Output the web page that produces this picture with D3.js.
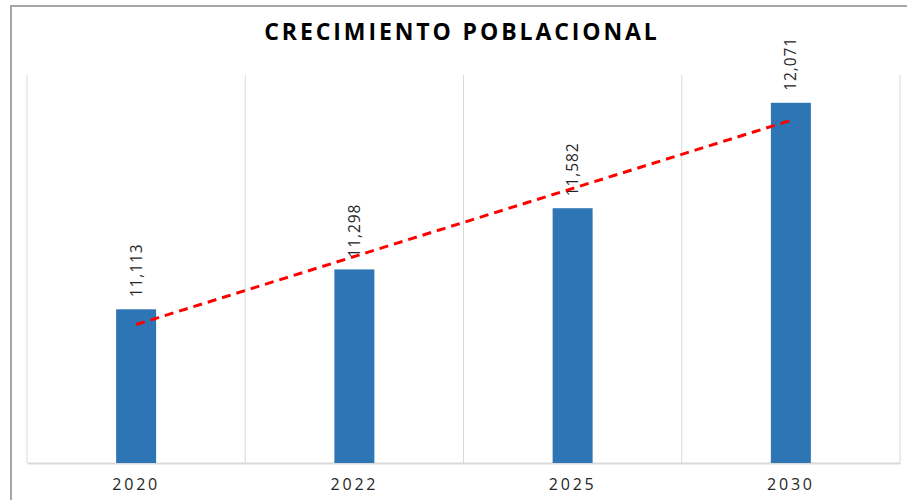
<!DOCTYPE html>
<html>
<head>
<meta charset="utf-8">
<script src="https://cdn.jsdelivr.net/npm/d3@7"></script>
<style>
  html, body { margin: 0; padding: 0; background: #fff; }
  svg { display: block; }
</style>
</head>
<body>
<svg id="chart" width="907" height="500"></svg>
<script>
// Population by year
const years = ["2020", "2022", "2025", "2030"];
const population = [11113, 11298, 11582, 12071];
const valueDomain = [10400, 12200];
const chartTitle = "CRECIMIENTO POBLACIONAL";

const W = 907, H = 500;
const margin = { top: 75, right: 7, bottom: 37, left: 27 };
const svg = d3.select("#chart");

svg.append("rect").attr("width", W).attr("height", H).attr("fill", "#fff");

// chart frame (top and left edges visible)
svg.append("path")
  .attr("d", `M11,${H} L11,6 L${W},6`)
  .attr("fill", "none")
  .attr("stroke", "#a6a6a6")
  .attr("stroke-width", 2);

const x = d3.scaleBand()
  .domain(years)
  .range([margin.left, W - margin.right])
  .paddingInner(0).paddingOuter(0);

const y = d3.scaleLinear()
  .domain(valueDomain)
  .range([H - margin.bottom, margin.top]);

// vertical category separators
const seps = years.map(d => x(d)).concat([x(years[years.length - 1]) + x.bandwidth()]);
svg.append("g").selectAll("line").data(seps).join("line")
  .attr("x1", d => d).attr("x2", d => d)
  .attr("y1", margin.top).attr("y2", H - margin.bottom)
  .attr("stroke", "#d9d9d9").attr("stroke-width", 1);

// category axis
const xAxis = svg.append("g")
  .attr("transform", `translate(0,${H - margin.bottom})`)
  .call(d3.axisBottom(x).tickSize(0).tickPadding(16));
xAxis.select(".domain").attr("stroke", "#d9d9d9").attr("stroke-width", 2);
xAxis.selectAll("text")
  .attr("font-family", "'Open Sans', sans-serif")
  .attr("font-size", 16)
  .attr("letter-spacing", "2.8px")
  .attr("fill", "#262626");

// bars
const barW = 40;
const data = years.map((yr, i) => ({ yr, v: population[i] }));
svg.append("g").selectAll("rect").data(data).join("rect")
  .attr("x", d => x(d.yr) + x.bandwidth() / 2 - barW / 2)
  .attr("width", barW)
  .attr("y", d => y(d.v))
  .attr("height", d => y(valueDomain[0]) - y(d.v))
  .attr("fill", "#2e75b6");

// value labels, rotated
const fmt = d3.format(",");
svg.append("g").selectAll("text").data(data).join("text")
  .attr("transform", d => `translate(${x(d.yr) + x.bandwidth() / 2},${y(d.v) - 12}) rotate(-90)`)
  .attr("dy", "0.35em")
  .attr("text-anchor", "start")
  .attr("font-family", "'Open Sans', sans-serif")
  .attr("font-size", 15.5)
  .attr("letter-spacing", "0.9px")
  .attr("fill", "#262626")
  .text(d => fmt(d.v));

// linear trend (least squares over category index)
const n = population.length;
const idx = d3.range(1, n + 1);
const mx = d3.mean(idx), my = d3.mean(population);
const slope = d3.sum(idx, (k, i) => (k - mx) * (population[i] - my)) / d3.sum(idx, k => (k - mx) ** 2);
const intercept = my - slope * mx;
const trend = [
  { yr: years[0], v: intercept + slope * idx[0] },
  { yr: years[n - 1], v: intercept + slope * idx[n - 1] }
];
svg.append("path")
  .datum(trend)
  .attr("d", d3.line().x(d => x(d.yr) + x.bandwidth() / 2).y(d => y(d.v)))
  .attr("fill", "none")
  .attr("stroke", "#ff0000")
  .attr("stroke-width", 3)
  .attr("stroke-dasharray", "9,6");

// title
svg.append("text")
  .attr("x", 462).attr("y", 40)
  .attr("text-anchor", "middle")
  .attr("font-family", "'Open Sans', sans-serif")
  .attr("font-weight", "bold")
  .attr("font-size", 23)
  .attr("letter-spacing", "2.9px")
  .attr("fill", "#000")
  .text(chartTitle);
</script>
</body>
</html>
